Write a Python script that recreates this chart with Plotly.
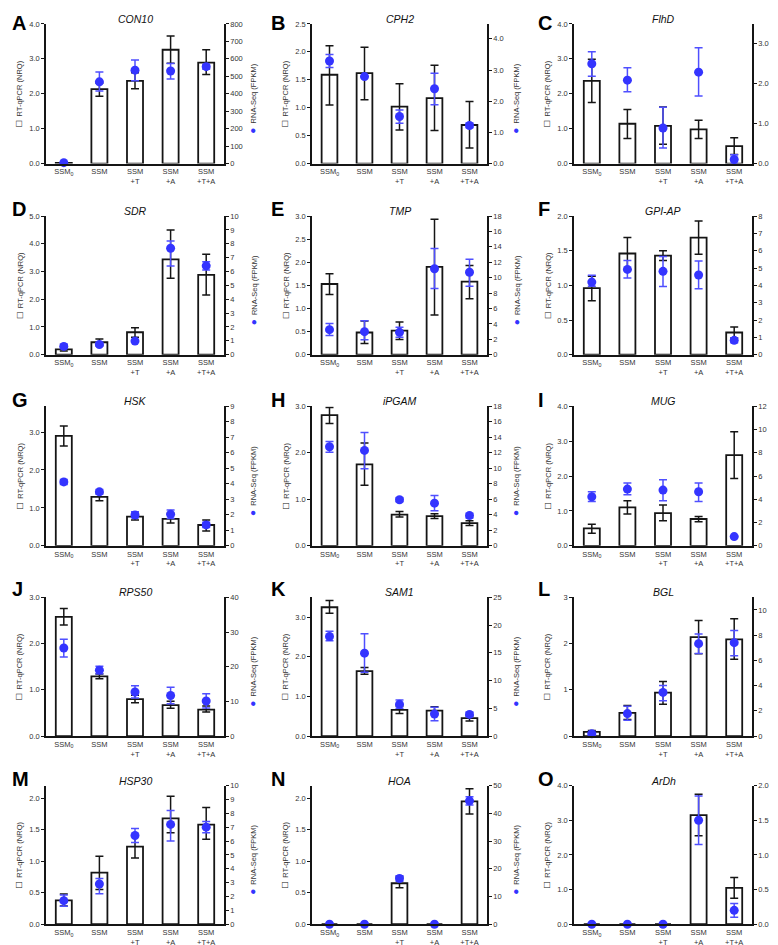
import plotly.graph_objects as go

W, H = 778, 945

categories = ["SSM<sub>0</sub>", "SSM", "SSM<br>+T", "SSM<br>+A", "SSM<br>+T+A"]
panel_letters = list("ABCDEFGHIJKLMNO")
genes = ["CON10", "CPH2", "FlhD", "SDR", "TMP", "GPI-AP", "HSK", "iPGAM", "MUG",
         "RPS50", "SAM1", "BGL", "HSP30", "HOA", "ArDh"]

# RT-qPCR (NRQ): bar height, lower and upper error bound
qpcr_mean = [
    [0.02, 2.13, 2.37, 3.26, 2.89],
    [1.59, 1.62, 1.02, 1.17, 0.69],
    [2.37, 1.14, 1.08, 0.98, 0.50],
    [0.19, 0.45, 0.81, 3.44, 2.88],
    [1.53, 0.48, 0.52, 1.90, 1.58],
    [0.96, 1.46, 1.43, 1.69, 0.32],
    [2.90, 1.29, 0.77, 0.71, 0.55],
    [2.81, 1.75, 0.67, 0.64, 0.49],
    [0.50, 1.10, 0.94, 0.77, 2.60],
    [2.58, 1.29, 0.80, 0.67, 0.57],
    [3.25, 1.64, 0.66, 0.64, 0.45],
    [0.09, 0.50, 0.94, 2.14, 2.09],
    [0.38, 0.82, 1.23, 1.68, 1.58],
    [0.00, 0.00, 0.65, 0.00, 1.95],
    [0.00, 0.00, 0.00, 3.15, 1.05],
]
qpcr_low = [
    [0.02, 1.93, 2.14, 2.87, 2.55],
    [1.05, 1.14, 0.60, 0.59, 0.28],
    [1.75, 0.72, 0.55, 0.72, 0.26],
    [0.13, 0.33, 0.63, 2.76, 2.15],
    [1.30, 0.24, 0.33, 0.86, 1.21],
    [0.78, 1.23, 1.36, 1.45, 0.24],
    [2.63, 1.19, 0.68, 0.60, 0.39],
    [2.63, 1.30, 0.62, 0.59, 0.44],
    [0.36, 0.91, 0.72, 0.69, 1.93],
    [2.40, 1.24, 0.72, 0.60, 0.52],
    [3.10, 1.56, 0.57, 0.57, 0.38],
    [0.07, 0.36, 0.69, 1.78, 1.66],
    [0.29, 0.55, 1.05, 1.45, 1.35],
    [0.00, 0.00, 0.58, 0.00, 1.75],
    [0.00, 0.00, 0.00, 2.55, 0.75],
]
qpcr_high = [
    [0.02, 2.31, 2.60, 3.65, 3.26],
    [2.11, 2.08, 1.43, 1.76, 1.11],
    [2.99, 1.55, 1.62, 1.24, 0.74],
    [0.30, 0.57, 0.97, 4.50, 3.62],
    [1.75, 0.73, 0.71, 2.93, 1.93],
    [1.13, 1.69, 1.50, 1.93, 0.40],
    [3.16, 1.40, 0.86, 0.86, 0.68],
    [2.97, 2.21, 0.74, 0.69, 0.54],
    [0.62, 1.29, 1.17, 0.84, 3.27],
    [2.76, 1.34, 0.88, 0.75, 0.65],
    [3.42, 1.73, 0.76, 0.74, 0.51],
    [0.12, 0.66, 1.18, 2.50, 2.54],
    [0.48, 1.08, 1.42, 2.03, 1.85],
    [0.00, 0.00, 0.75, 0.00, 2.15],
    [0.00, 0.00, 0.00, 3.75, 1.35],
]

# RNA-Seq (FPKM): point value, lower and upper error bound
fpkm_mean = [
    [5, 468, 535, 530, 555],
    [3.29, 2.79, 1.51, 2.40, 1.22],
    [2.50, 2.09, 0.89, 2.29, 0.10],
    [0.60, 0.74, 0.98, 7.68, 6.41],
    [3.25, 2.99, 2.90, 11.16, 10.70],
    [4.19, 4.92, 4.81, 4.60, 0.83],
    [4.12, 3.48, 1.99, 2.03, 1.35],
    [12.78, 12.30, 5.94, 5.50, 3.90],
    [4.22, 4.88, 4.79, 4.65, 0.80],
    [25.4, 19.0, 12.7, 11.7, 10.1],
    [17.95, 14.94, 5.72, 3.98, 3.90],
    [0.18, 1.78, 3.46, 7.33, 7.41],
    [1.7, 2.9, 6.4, 7.2, 7.0],
    [0.0, 0.0, 16.5, 0.0, 44.5],
    [0.0, 0.0, 0.0, 1.50, 0.20],
]
fpkm_low = [
    [5, 415, 475, 485, 540],
    [3.08, 2.79, 1.29, 1.89, 1.15],
    [2.19, 1.80, 0.39, 1.69, 0.00],
    [0.45, 0.62, 0.90, 6.40, 6.10],
    [2.48, 1.95, 2.27, 8.60, 8.90],
    [3.95, 4.42, 3.94, 3.80, 0.69],
    [3.95, 3.33, 1.82, 1.77, 1.18],
    [12.05, 9.93, 5.70, 4.54, 3.60],
    [3.82, 4.39, 3.88, 3.82, 0.75],
    [22.8, 18.0, 11.0, 9.3, 8.1],
    [17.2, 11.5, 5.0, 2.77, 3.5],
    [0.10, 1.26, 2.80, 6.54, 6.36],
    [1.3, 2.2, 5.9, 6.0, 6.6],
    [0.0, 0.0, 15.5, 0.0, 43.0],
    [0.0, 0.0, 0.0, 1.15, 0.10],
]
fpkm_high = [
    [5, 525, 593, 573, 568],
    [3.50, 2.79, 1.72, 2.90, 1.29],
    [2.80, 2.40, 1.41, 2.90, 0.22],
    [0.75, 0.86, 1.10, 8.20, 6.70],
    [4.06, 4.40, 3.55, 13.80, 12.40],
    [4.58, 5.44, 5.67, 5.40, 0.96],
    [4.27, 3.63, 2.20, 2.31, 1.52],
    [13.45, 14.60, 6.20, 6.50, 4.20],
    [4.65, 5.40, 5.68, 5.40, 0.85],
    [27.9, 20.1, 14.5, 14.1, 12.2],
    [18.9, 18.43, 6.5, 5.2, 4.3],
    [0.26, 2.36, 4.00, 8.10, 8.38],
    [2.1, 3.3, 6.9, 8.2, 7.4],
    [0.0, 0.0, 17.5, 0.0, 46.0],
    [0.0, 0.0, 0.0, 1.85, 0.30],
]

# axis scales
left_max = [4, 2.5, 4, 5, 3, 2, 3.68, 3, 4, 3, 3.5, 3, 2.2, 2.2, 4]
left_step = [1, 0.5, 1, 1, 0.5, 0.5, 1, 1, 1, 1, 1, 1, 0.5, 0.5, 1]
left_top_tick = [4, 2.5, 4, 5, 3, 2, 3, 3, 4, 3, 3, 3, 2, 2, 4]
left_fmt = ["{:.1f}"] * 11 + ["{:.0f}"] + ["{:.1f}"] * 3
right_max = [800, 4.48, 3.5, 10, 18, 8, 9, 18, 12, 40, 25, 11, 10, 50, 2]
right_step = [100, 1, 1, 1, 2, 1, 1, 2, 2, 10, 5, 2, 1, 10, 0.5]
right_top_tick = [800, 4, 3, 10, 18, 8, 9, 18, 12, 40, 25, 10, 10, 50, 2]
right_fmt = ["{:.0f}", "{:.1f}", "{:.1f}"] + ["{:.0f}"] * 11 + ["{:.1f}"]

# ---- layout geometry (pixels) ----
col_x = [(38, 216), (304, 479), (566, 744)]
row_y = [(12, 153), (206, 346), (398, 539), (591, 731), (781, 921)]
letter_x = [2, 261, 528]
letter_y = [11, 199, 392, 583, 774]
right_label_off = [29, 29, 22]

FONT = "Arial, Liberation Sans, Helvetica, sans-serif"
BLUE = "#3434ff"
EBLUE = "#4f4fff"
BLACK = "#151515"


def ticks(step, top):
    n = int(round(top / step))
    return [round(i * step, 6) for i in range(n + 1)]


fig = go.Figure()
layout = dict(
    width=W, height=H, autosize=False,
    margin=dict(l=0, r=0, t=0, b=0),
    paper_bgcolor="white", plot_bgcolor="white",
    showlegend=False, font=dict(family=FONT, color="#333", size=8),
)
annotations = []
xs = list(range(5))

for k in range(15):
    r, c = divmod(k, 3)
    l, rr = col_x[c]
    t, b = row_y[r]
    xd = [l / W, rr / W]
    yd = [1 - b / H, 1 - t / H]
    xid = "x" if k == 0 else f"x{k + 1}"
    ylid = f"y{2 * k + 1}" if k > 0 else "y"
    yrid = f"y{2 * k + 2}"

    m = qpcr_mean[k]
    fig.add_trace(go.Bar(
        x=xs, y=m, width=0.45,
        marker=dict(color="white", line=dict(color=BLACK, width=1.8)),
        error_y=dict(type="data", symmetric=False,
                     array=[h - v for h, v in zip(qpcr_high[k], m)],
                     arrayminus=[v - lo for v, lo in zip(m, qpcr_low[k])],
                     color=BLACK, thickness=1.5, width=4),
        xaxis=xid, yaxis=ylid, hoverinfo="skip",
    ))
    f = fpkm_mean[k]
    fig.add_trace(go.Scatter(
        x=xs, y=f, mode="markers",
        marker=dict(size=9, color=BLUE),
        error_y=dict(type="data", symmetric=False,
                     array=[h - v for h, v in zip(fpkm_high[k], f)],
                     arrayminus=[v - lo for v, lo in zip(f, fpkm_low[k])],
                     color=EBLUE, thickness=1.5, width=4),
        cliponaxis=False,
        xaxis=xid, yaxis=yrid, hoverinfo="skip",
    ))

    xkey = "xaxis" if k == 0 else f"xaxis{k + 1}"
    ylkey = "yaxis" if k == 0 else f"yaxis{2 * k + 1}"
    yrkey = f"yaxis{2 * k + 2}"

    layout[xkey] = dict(
        domain=xd, range=[-0.5, 4.5], anchor=ylid,
        tickvals=xs, ticktext=categories, showline=True, linecolor=BLACK,
        linewidth=1.5, ticks="", showgrid=False, zeroline=False,
        tickfont=dict(size=7.5, color="#333"), fixedrange=True,
    )
    lt = ticks(left_step[k], left_top_tick[k])
    layout[ylkey] = dict(
        domain=yd, range=[0, left_max[k]], anchor=xid,
        tickvals=lt, ticktext=[left_fmt[k].format(v) for v in lt],
        showline=True, linecolor=BLACK, linewidth=1.5,
        ticks="outside", ticklen=3, tickcolor=BLACK, tickwidth=1,
        showgrid=False, zeroline=False,
        tickfont=dict(size=7.5, color="#333"), fixedrange=True,
    )
    rt = ticks(right_step[k], right_top_tick[k])
    layout[yrkey] = dict(
        domain=yd, range=[0, right_max[k]], anchor=xid,
        overlaying=ylid, side="right",
        tickvals=rt, ticktext=[right_fmt[k].format(v) for v in rt],
        showline=True, linecolor=BLACK, linewidth=1.5,
        ticks="outside", ticklen=3, tickcolor=BLACK, tickwidth=1,
        showgrid=False, zeroline=False,
        tickfont=dict(size=7.5, color="#333"), fixedrange=True,
    )

    # panel letter
    annotations.append(dict(
        x=letter_x[c] / W, y=1 - letter_y[r] / H, xref="paper", yref="paper",
        xanchor="left", yanchor="middle", showarrow=False,
        text=f"<b>{panel_letters[k]}</b>",
        font=dict(size=20, color="black", family=FONT),
    ))
    # gene title
    annotations.append(dict(
        x=(l + rr) / 2 / W, y=1 - (t - 5) / H, xref="paper", yref="paper",
        xanchor="center", yanchor="middle", showarrow=False,
        text=f"<i>{genes[k]}</i>",
        font=dict(size=10.5, color="#111", family=FONT),
    ))
    # left axis label
    annotations.append(dict(
        x=(l - 27) / W, y=1 - ((t + b) / 2) / H, xref="paper", yref="paper",
        xanchor="center", yanchor="middle", showarrow=False, textangle=-90,
        text="<span style='font-size:10px;color:#111'>□</span>  RT-qPCR (NRQ)",
        font=dict(size=7.5, color="#333", family=FONT),
    ))
    # right axis label
    annotations.append(dict(
        x=(rr + right_label_off[c]) / W, y=1 - ((t + b) / 2 + 5) / H,
        xref="paper", yref="paper",
        xanchor="center", yanchor="middle", showarrow=False, textangle=-90,
        borderpad=0,
        text=f"<span style='font-size:10px;color:{BLUE}'>●</span>  RNA-Seq (FPKM)",
        font=dict(size=7.5, color="#333", family=FONT),
    ))

layout["annotations"] = annotations
fig.update_layout(**layout)
fig.write_html("out.html")
